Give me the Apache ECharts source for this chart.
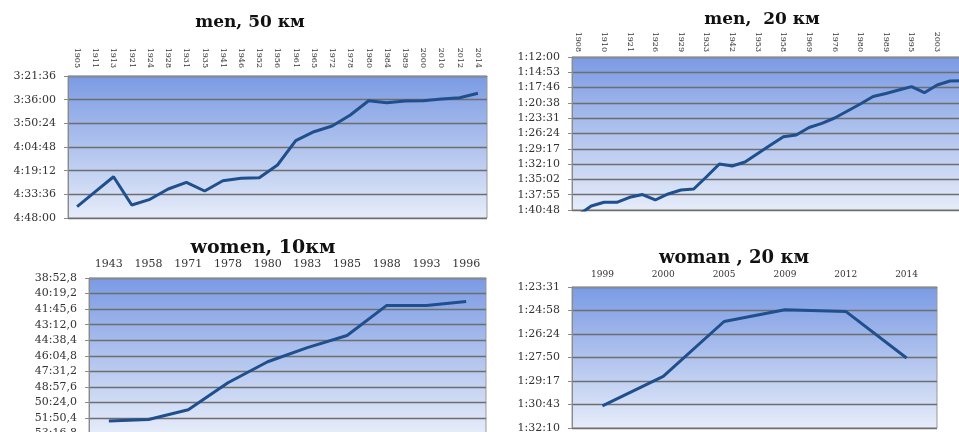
<!DOCTYPE html>
<html>
<head>
<meta charset="utf-8">
<script src="https://cdn.jsdelivr.net/npm/echarts@6/dist/echarts.min.js"></script>
<style>
  html, body { margin: 0; padding: 0; background: #fff; overflow: hidden; }
  /* wider than the window: the right and bottom charts run off the edge like in the scan */
  #main { width: 1000px; height: 460px; }
</style>
</head>
<body>
<div id="main"></div>
<script>
// men, 50 km
const men50Years = ['1905', '1911', '1913', '1921', '1924', '1928', '1931', '1935', '1941', '1946', '1952', '1956',
  '1961', '1965', '1972', '1978', '1980', '1984', '1989', '2000', '2010', '2012', '2014'];
const men50Times = ['4:41:08', '4:32:00', '4:22:53', '4:40:06', '4:36:38', '4:30:22', '4:26:17', '4:31:35', '4:25:19',
  '4:23:51', '4:23:29', '4:15:45', '4:00:58', '3:55:30', '3:52:02', '3:45:20', '3:36:38', '3:37:51', '3:36:49',
  '3:36:38', '3:35:36', '3:34:48', '3:32:08'];

// men, 20 km (only every other year is labelled)
const men20Years = ['1908', '', '1910', '', '1921', '', '1926', '', '1929', '', '1933', '', '1942', '', '1953', '',
  '1958', '', '1969', '', '1976', '', '1980', '', '1989', '', '1995', '', '2003', '', '', ''];
const men20Times = ['1:41:44', '1:40:03', '1:39:21', '1:39:21', '1:38:25', '1:37:53', '1:38:55', '1:37:47', '1:37:02',
  '1:36:51', '1:34:32', '1:32:08', '1:32:31', '1:31:46', '1:30:10', '1:28:34', '1:27:00', '1:26:41', '1:25:16',
  '1:24:29', '1:23:29', '1:22:10', '1:20:51', '1:19:26', '1:18:52', '1:18:13', '1:17:35', '1:18:43', '1:17:16',
  '1:16:31', '1:16:28', '1:16:25'];

// women, 10 km
const women10Years = ['1943', '1958', '1971', '1978', '1980', '1983', '1985', '1988', '1993', '1996'];
const women10Times = ['52:08', '51:59', '51:05', '48:35', '46:38', '45:20', '44:12', '41:25', '41:25', '41:03'];

// woman, 20 km
const women20Years = ['1999', '2000', '2005', '2009', '2012', '2014'];
const women20Times = ['1:30:48', '1:29:00', '1:25:38', '1:24:55', '1:25:01', '1:27:52'];

const toSec = (s) => s.split(':').map(Number).reduce((a, p) => a * 60 + p, 0);
const pad = (n) => (n < 10 ? '0' : '') + n;
const hms = (v) => {
  const r = Math.round(v);
  return Math.floor(r / 3600) + ':' + pad(Math.floor((r % 3600) / 60)) + ':' + pad(r % 60);
};
const msd = (v) => {
  const t = Math.round(v * 10);
  const m = Math.floor(t / 600);
  const rest = t - m * 600;
  return m + ':' + pad(Math.floor(rest / 10)) + ',' + (rest % 10);
};

const serif = 'DejaVu Serif';
const gridFill = new echarts.graphic.LinearGradient(0, 0, 0, 1, [
  { offset: 0, color: '#7a9ae3' },
  { offset: 1, color: '#e6ecf9' },
]);
const lineColor = '#1f4f8c';

const grids = [
  { left: 68, top: 76, width: 419, height: 142 },
  { left: 572, top: 57, width: 410, height: 153 },
  { left: 89, top: 278, width: 397, height: 155.5 },
  { left: 572, top: 287, width: 365, height: 141 },
].map((g) => ({ ...g, show: true, backgroundColor: gridFill, borderColor: '#999', borderWidth: 1 }));

const xAxisBase = (i, data, label) => ({
  type: 'category',
  gridIndex: i,
  position: 'top',
  data: data,
  axisLine: { onZero: false, lineStyle: { color: '#8a8a8a' } },
  axisTick: { lineStyle: { color: '#8a8a8a' }, length: 4 },
  axisLabel: { fontFamily: serif, color: '#333', interval: 0, ...label },
});

const yAxisBase = (i, min, max, interval, fmt) => ({
  type: 'value',
  gridIndex: i,
  inverse: true,
  min: min,
  max: max,
  interval: interval,
  axisLine: { show: true, lineStyle: { color: '#8a8a8a' } },
  axisTick: { show: true, length: 4, lineStyle: { color: '#8a8a8a' } },
  splitLine: { lineStyle: { color: '#6e6e6e', width: 1.4 } },
  axisLabel: { fontFamily: serif, fontSize: 11, color: '#333', margin: 12, formatter: fmt },
});

const lineSeries = (i, times) => ({
  type: 'line',
  xAxisIndex: i,
  yAxisIndex: i,
  data: times.map(toSec),
  symbol: 'none',
  lineStyle: { color: lineColor, width: 3 },
  silent: true,
});

const titleStyle = { fontFamily: serif, fontWeight: 'bold', fontSize: 17, color: '#111' };

const option = {
  animation: false,
  title: [
    { text: 'men, 50 км', left: 245, top: 9, textAlign: 'center', textStyle: titleStyle },
    { text: 'men,  20 км', left: 757, top: 6, textAlign: 'center', textStyle: titleStyle },
    { text: 'women, 10км', left: 258, top: 234, textAlign: 'center', textStyle: { ...titleStyle, fontSize: 19 } },
    { text: 'woman , 20 км', left: 729, top: 244, textAlign: 'center', textStyle: { ...titleStyle, fontSize: 18 } },
  ],
  grid: grids,
  xAxis: [
    xAxisBase(0, men50Years, { rotate: 90, fontSize: 8, margin: 8 }),
    xAxisBase(1, men20Years, { rotate: 90, fontSize: 8, margin: 5 }),
    xAxisBase(2, women10Years, { fontSize: 11, margin: 8 }),
    xAxisBase(3, women20Years, { fontSize: 9, margin: 8 }),
  ],
  yAxis: [
    yAxisBase(0, 12096, 17280, 864, hms),
    yAxisBase(1, 4320, 6048, 172.8, hms),
    yAxisBase(2, 2332.8, 3196.8, 86.4, msd),
    yAxisBase(3, 5011.2, 5529.6, 86.4, hms),
  ],
  series: [
    lineSeries(0, men50Times),
    lineSeries(1, men20Times),
    lineSeries(2, women10Times),
    lineSeries(3, women20Times),
  ],
};

const chart = echarts.init(document.getElementById('main'));
chart.setOption(option);
</script>
</body>
</html>
